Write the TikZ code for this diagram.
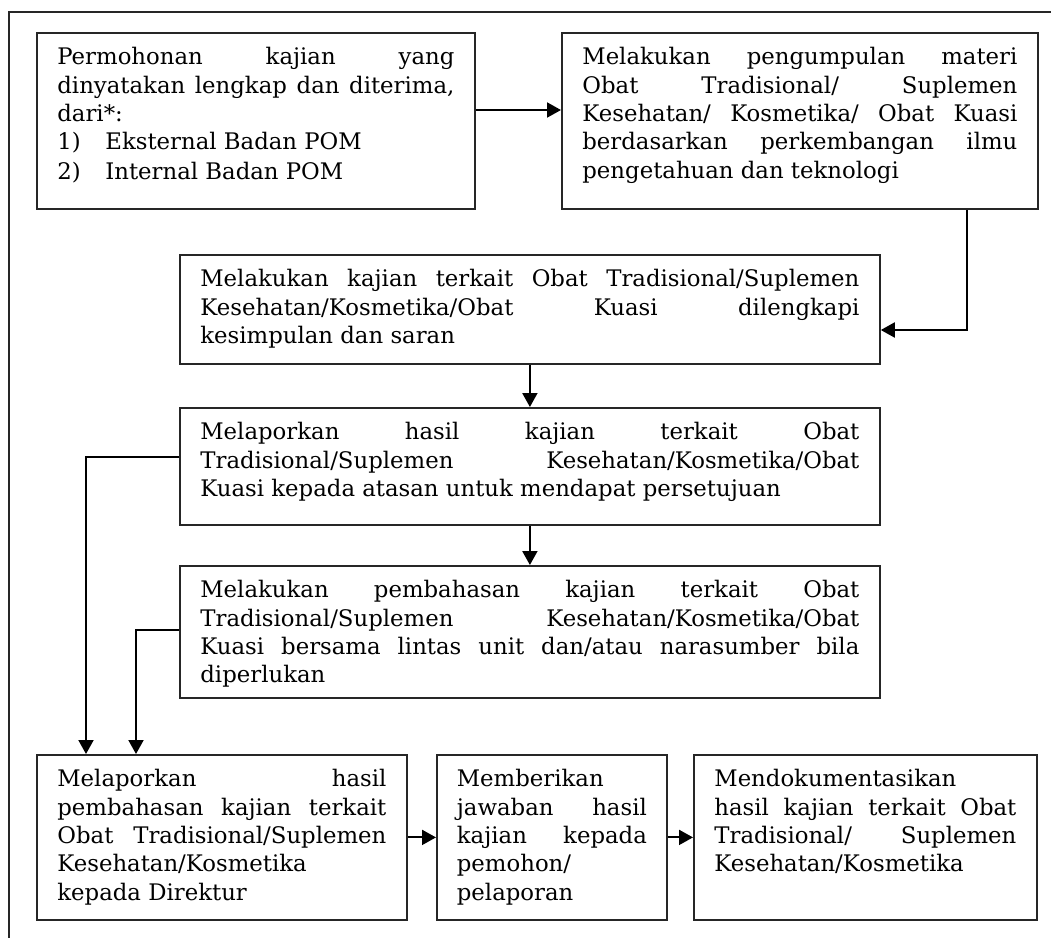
\documentclass[tikz,border=0pt]{standalone}
\usepackage{fontspec}
\setmainfont{DejaVu Serif}
\usetikzlibrary{arrows.meta}
\newcommand\jl[1]{\makebox[\hsize][s]{#1}}
\newcommand\firstline{\rule{0pt}{16pt}}
\newcommand\bxt[3]{\parbox[c][#2][t]{#1}{\raggedright\firstline #3}}
\tikzset{
  stepbox/.style={draw=black!85, line width=0.9pt, inner sep=0pt, anchor=north west,
    font=\fontsize{11.4}{14.15}\selectfont},
  conn/.style={draw=black, line width=1pt, -{Triangle[length=7pt,width=7.5pt]}},
  frameline/.style={draw=black!85, line width=0.9pt}
}
\begin{document}
\begin{tikzpicture}[x=0.5pt,y=-0.5pt]
\useasboundingbox (0,0) rectangle (1051,938);
\draw[frameline] (1051,12) -- (9,12) -- (9,938);

\node[stepbox, minimum width=219pt, minimum height=88pt] (b1) at (36,32)
 {\bxt{198.5pt}{88pt}{\jl{Permohonan kajian yang}\\
  \jl{dinyatakan lengkap dan diterima,}\\
  dari*:\\
  \makebox[24pt][l]{1)}Eksternal Badan POM\\[0.7pt]
  \makebox[24pt][l]{2)}Internal Badan POM}};

\node[stepbox, minimum width=238pt, minimum height=88pt] (b2) at (561,32)
 {\bxt{217.5pt}{88pt}{\jl{Melakukan pengumpulan materi}\\
  \jl{Obat Tradisional/ Suplemen}\\
  \jl{Kesehatan/ Kosmetika/ Obat Kuasi}\\
  \jl{berdasarkan perkembangan ilmu}\\
  pengetahuan dan teknologi}};

\node[stepbox, minimum width=350pt, minimum height=54.5pt] (b3) at (179,254)
 {\bxt{329.5pt}{54.5pt}{\jl{Melakukan kajian terkait Obat Tradisional/Suplemen}\\
  \jl{Kesehatan/Kosmetika/Obat Kuasi dilengkapi}\\
  kesimpulan dan saran}};

\node[stepbox, minimum width=350pt, minimum height=58.5pt] (b4) at (179,407)
 {\bxt{329.5pt}{58.5pt}{\jl{Melaporkan hasil kajian terkait Obat}\\
  \jl{Tradisional/Suplemen Kesehatan/Kosmetika/Obat}\\
  Kuasi kepada atasan untuk mendapat persetujuan}};

\node[stepbox, minimum width=350pt, minimum height=66pt] (b5) at (179,565)
 {\bxt{329.5pt}{66pt}{\jl{Melakukan pembahasan kajian terkait Obat}\\
  \jl{Tradisional/Suplemen Kesehatan/Kosmetika/Obat}\\
  \jl{Kuasi bersama lintas unit dan/atau narasumber bila}\\
  diperlukan}};

\node[stepbox, minimum width=185pt, minimum height=82.5pt] (b6) at (36,754)
 {\bxt{164.5pt}{82.5pt}{\jl{Melaporkan hasil}\\
  \jl{pembahasan kajian terkait}\\
  \jl{Obat Tradisional/Suplemen}\\
  Kesehatan/Kosmetika\\
  kepada Direktur}};

\node[stepbox, minimum width=115pt, minimum height=82.5pt] (b7) at (436,754)
 {\bxt{95pt}{82.5pt}{Memberikan\\
  \jl{jawaban hasil}\\
  \jl{kajian kepada}\\
  pemohon/\\
  pelaporan}};

\node[stepbox, minimum width=171.5pt, minimum height=82.5pt] (b8) at (693,754)
 {\bxt{151pt}{82.5pt}{Mendokumentasikan\\
  \jl{hasil kajian terkait Obat}\\
  \jl{Tradisional/ Suplemen}\\
  Kesehatan/Kosmetika}};

\coordinate (k0) at (500,110);
\coordinate (k1) at (967,330);
\coordinate (k2) at (86,457);
\coordinate (k3) at (136,630);

\draw[conn] (b1.east |- k0) -- (b2.west |- k0);
\draw[conn] (b2.south -| k1) -- (k1) -- (k1 -| b3.east);
\draw[conn] (b3.south) -- (b4.north);
\draw[conn] (b4.south) -- (b5.north);
\draw[conn] (b4.west |- k2) -- (k2) -- (k2 |- b6.north);
\draw[conn] (b5.west |- k3) -- (k3) -- (k3 |- b6.north);
\draw[conn] (b6.east) -- (b7.west);
\draw[conn] (b7.east) -- (b8.west);
\end{tikzpicture}
\end{document}
